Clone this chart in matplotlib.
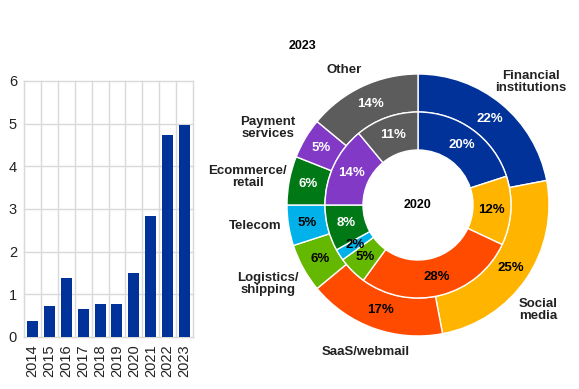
import matplotlib.pyplot as plt
import numpy as np

plt.rcParams['font.family'] = ['Liberation Sans', 'DejaVu Sans']

# bar chart data
years = ['2014', '2015', '2016', '2017', '2018', '2019', '2020', '2021', '2022', '2023']
counts = [0.37, 0.72, 1.38, 0.66, 0.77, 0.77, 1.50, 2.84, 4.74, 4.97]

# donut data (shares, %)
sectors = ['Financial\ninstitutions', 'Social\nmedia', 'SaaS/webmail', 'Logistics/\nshipping',
           'Telecom', 'Ecommerce/\nretail', 'Payment\nservices', 'Other']
share_2023 = [22, 25, 17, 6, 5, 6, 5, 14]
share_2020 = [20, 12, 28, 5, 2, 8, 14, 11]

colors = ['#003299', '#FFB400', '#FF4B00', '#65B800', '#00B1EA', '#007816', '#8139C6', '#5C5C5C']
text_colors = ['white', 'black', 'black', 'black', 'black', 'white', 'white', 'white']

# label positions, in donut data units
label_pos = [(0.86, 0.94), (0.92, -0.80), (-0.40, -1.12), (-1.145, -0.60),
             (-1.24, -0.16), (-1.30, 0.21), (-1.145, 0.59), (-0.565, 1.03)]

fig = plt.figure(figsize=(5.79, 3.89), dpi=100)

# --- bars ---
ax = fig.add_axes([24 / 579, 1 - 337 / 389, 169 / 579, 256 / 389])
x = np.arange(len(years))
ax.bar(x, counts, width=0.65, color='#003299', zorder=3)
ax.set_xlim(-0.5, len(years) - 0.5)
ax.set_ylim(0, 6)
ax.set_yticks(range(7))
ax.set_xticks(x)
ax.set_xticklabels(years, rotation=90)
ax.set_xticks(np.arange(-0.5, len(years)), minor=True)
ax.grid(True, which='minor', axis='x', color='#d9d9d9', lw=1, zorder=0)
ax.grid(True, which='major', axis='y', color='#d9d9d9', lw=1, zorder=0)
for tk in ax.xaxis.get_minor_ticks() + ax.yaxis.get_major_ticks():
    tk.gridline.set_clip_on(False)
ax.tick_params(which='both', length=0, labelsize=10.5, colors='#222222', pad=5)
for s in ['top', 'right']:
    ax.spines[s].set_visible(False)
for s in ['left', 'bottom']:
    ax.spines[s].set_color('#d9d9d9')

# --- donut ---
cx, cy, r = 418, 205, 131
pax = fig.add_axes([(cx - r) / 579, (389 - cy - r) / 389, 2 * r / 579, 2 * r / 389])
r_in = 93 / 131
w_out, t_out, p_out = pax.pie(share_2023, radius=1.0, colors=colors, startangle=90, counterclock=False,
                              wedgeprops=dict(width=38 / 131, edgecolor='white', linewidth=1),
                              autopct=lambda p: f'{p:.0f}%', pctdistance=0.855)
w_in, t_in, p_in = pax.pie(share_2020, radius=r_in, colors=colors, startangle=90, counterclock=False,
                           wedgeprops=dict(width=38 / 131, edgecolor='white', linewidth=1),
                           autopct=lambda p: f'{p:.0f}%', pctdistance=0.565 / r_in)
for txts in (p_out, p_in):
    for t, c in zip(txts, text_colors):
        t.set_color(c)
        t.set_fontsize(9.5)
        t.set_fontweight('bold')

for name, (lx, ly) in zip(sectors, label_pos):
    pax.text(lx, ly, name, ha='center', va='center', fontsize=9.5, fontweight='bold',
             color='#222222', linespacing=1.0)
pax.text(-0.88, 1.21, '2023', ha='center', va='center', fontsize=9, fontweight='bold')
pax.text(0.0, 0.0, '2020', ha='center', va='center', fontsize=9, fontweight='bold')
pax.set_xlim(-1, 1)
pax.set_ylim(-1, 1)
pax.set_aspect('equal')
pax.axis('off')

fig.savefig('out.png', dpi=100)
